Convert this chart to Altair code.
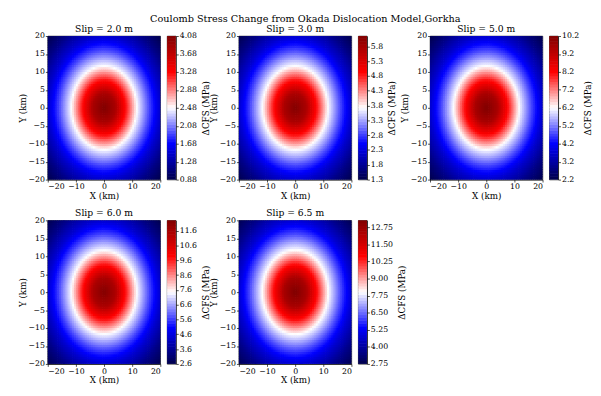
import numpy as np
import pandas as pd
import altair as alt

# ---- values ----
slips = [2.0, 3.0, 5.0, 6.0, 6.5]
center_cfs = [4.08, 6.12, 10.20, 12.24, 13.26]   # value at the centre (dark red)
corner_cfs = [0.88, 1.32, 2.20, 2.64, 2.86]      # value at the corners (navy)
cbar_min = [0.88, 1.30, 2.20, 2.60, 2.75]
cbar_max = [4.08, 6.15, 10.20, 12.30, 13.25]
cbar_ticks = [
    [0.88, 1.28, 1.68, 2.08, 2.48, 2.88, 3.28, 3.68, 4.08],
    [1.3, 1.8, 2.3, 2.8, 3.3, 3.8, 4.3, 4.8, 5.3, 5.8],
    [2.2, 3.2, 4.2, 5.2, 6.2, 7.2, 8.2, 9.2, 10.2],
    [2.6, 3.6, 4.6, 5.6, 6.6, 7.6, 8.6, 9.6, 10.6, 11.6],
    [2.75, 4.00, 5.25, 6.50, 7.75, 9.00, 10.25, 11.50, 12.75],
]
cbar_formats = [".2f", ".1f", ".1f", ".1f", ".2f"]
# radial profile of the field (fraction between corner and centre value)
profile_r_km = [0, 4, 8, 11.6, 16, 20, 24, 28.3]
profile_frac = [1.0, 0.92, 0.72, 0.50, 0.32, 0.18, 0.08, 0.0]
x_ticks = [-20, -10, 0, 10, 20]
y_ticks = [-20, -15, -10, -5, 0, 5, 10, 15, 20]
seismic = ["#00004c", "#0000ff", "#ffffff", "#ff0000", "#800000"]

FONT = "DejaVu Serif"
MINUS = "replace(datum.label, '-', '\u2212')"
N = 60
edges = np.linspace(-20, 20, N + 1)
centers = (edges[:-1] + edges[1:]) / 2
OVER = 0.25  # small overlap so that neighbouring cells leave no seams


def panel(i):
    lo, hi = cbar_min[i], cbar_max[i]
    dom = [lo + k * (hi - lo) / 4 for k in range(5)]
    cscale = alt.Scale(domain=dom, range=seismic, interpolate="rgb", clamp=True)
    XX, YY = np.meshgrid(np.arange(N), np.arange(N))
    XX, YY = XX.ravel(), YY.ravel()
    r = np.hypot(centers[XX], centers[YY])
    frac = np.interp(r, profile_r_km, profile_frac)
    df = pd.DataFrame({
        "x0": edges[XX], "x1": np.minimum(edges[XX + 1] + OVER, 20),
        "y0": edges[YY], "y1": np.minimum(edges[YY + 1] + OVER, 20),
        "cfs": corner_cfs[i] + (center_cfs[i] - corner_cfs[i]) * frac,
    })
    heat = alt.Chart(df).mark_rect().encode(
        x=alt.X("x0:Q", scale=alt.Scale(domain=[-20, 20], nice=False, zero=False),
                axis=alt.Axis(values=x_ticks, title="X (km)", labelExpr=MINUS)),
        x2="x1:Q",
        y=alt.Y("y0:Q", scale=alt.Scale(domain=[-20, 20], nice=False, zero=False),
                axis=alt.Axis(values=y_ticks, title="Y (km)", labelExpr=MINUS)),
        y2="y1:Q",
        color=alt.Color("cfs:Q", scale=cscale, legend=None),
    ).properties(width=116, height=148,
                 title=alt.TitleParams(f"Slip = {slips[i]:.1f} m", fontSize=9.5,
                                       font=FONT, fontWeight="normal", offset=-1))
    levels = np.linspace(lo, hi, 51)
    cb_df = pd.DataFrame({"lo": levels[:-1], "hi": levels[1:] + (hi - lo) * 0.004,
                          "mid": (levels[:-1] + levels[1:]) / 2})
    cb = alt.Chart(cb_df).mark_rect().encode(
        x=alt.value(0), x2=alt.value(9),
        y=alt.Y("lo:Q", scale=alt.Scale(domain=[lo, hi], nice=False, zero=False, clamp=True),
                axis=alt.Axis(orient="right", values=cbar_ticks[i], format=cbar_formats[i],
                              title="\u0394CFS (MPa)", titleAngle=270, titleBaseline="top",
                              titlePadding=5)),
        y2="hi:Q",
        color=alt.Color("mid:Q", scale=cscale, legend=None),
    ).properties(width=9, height=148)
    return heat, cb


spacer = alt.Chart(pd.DataFrame({"a": [0]})).mark_point(opacity=0).encode(
    x=alt.value(0), y=alt.value(0)
).properties(width=51, height=148, view=alt.ViewBackground(stroke="transparent"))


def row(indices):
    items = []
    for k, i in enumerate(indices):
        if k > 0:
            items.append(spacer)
        items.extend(panel(i))
    return alt.hconcat(*items, spacing=7, bounds="flush").resolve_scale(color="independent")


chart = alt.vconcat(row([0, 1, 2]), row([3, 4]), spacing=7).resolve_scale(
    color="independent"
).properties(
    title=alt.TitleParams("Coulomb Stress Change from Okada Dislocation Model,Gorkha",
                          fontSize=10, font=FONT, fontWeight="normal", anchor="middle",
                          offset=0),
    padding={"left": 10, "top": 0, "right": 0, "bottom": 0},
).configure_view(stroke="#000", strokeWidth=0.7).configure_axis(
    labelFont=FONT, titleFont=FONT, labelFontSize=8, titleFontSize=9,
    titleFontWeight="normal", labelColor="#000", titleColor="#000",
    tickColor="#000", domainColor="#000", tickSize=2.5, domainWidth=0.7,
    tickWidth=0.7, grid=False, labelPadding=1, titlePadding=1, zindex=1,
).configure_title(color="#000")

chart.save("out.html", embed_options={"renderer": "svg", "actions": False})
